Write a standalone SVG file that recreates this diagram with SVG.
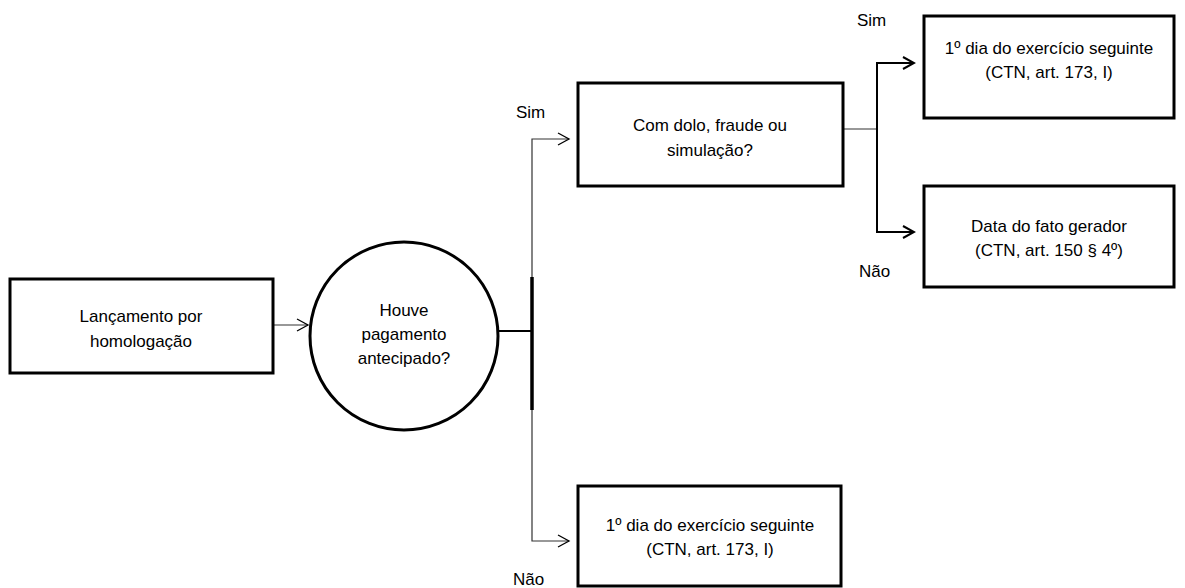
<svg xmlns="http://www.w3.org/2000/svg" width="1185" height="588" viewBox="0 0 1185 588">
<style>
.box{fill:#fff;stroke:#000;stroke-width:3}
.t{font-family:"Liberation Sans",Arial,sans-serif;font-size:17px;fill:#000;text-anchor:middle}
.lbl{font-family:"Liberation Sans",Arial,sans-serif;font-size:17px;fill:#000}
.thin{fill:none;stroke:#333;stroke-width:1.2}
.mid{fill:none;stroke:#000;stroke-width:2}
.thick{fill:none;stroke:#000;stroke-width:3.5}
</style>
<defs>
<marker id="arr" markerUnits="userSpaceOnUse" markerWidth="14" markerHeight="14" refX="12" refY="7" orient="auto" viewBox="0 0 14 14">
<path d="M1,1 L12,7 L1,13" fill="none" stroke="#000" stroke-width="1.3"/>
</marker>
<marker id="arr2" markerUnits="userSpaceOnUse" markerWidth="14" markerHeight="14" refX="12" refY="7" orient="auto" viewBox="0 0 14 14">
<path d="M1,1 L12,7 L1,13" fill="none" stroke="#000" stroke-width="2"/>
</marker>
</defs>
<rect width="1185" height="588" fill="#fff"/>
<g id="connectors">
<line class="thin" x1="273" y1="325" x2="308" y2="325" marker-end="url(#arr)"/>
<line class="mid" x1="498" y1="331" x2="532" y2="331"/>
<polyline class="thin" points="568,139 532,139 532,277"/>
<line class="thick" x1="532" y1="277" x2="532" y2="410"/>
<polyline class="thin" points="532,410 532,541 568,541"/>
<line class="thin" x1="568" y1="139" x2="569" y2="139" marker-end="url(#arr)"/>
<line class="thin" x1="568" y1="541" x2="569" y2="541" marker-end="url(#arr)"/>
<line class="thin" x1="843" y1="129" x2="877" y2="129"/>
<polyline class="mid" points="914,63 877,63 877,232 914,232"/>
<line class="mid" x1="913" y1="63" x2="914" y2="63" marker-end="url(#arr2)"/>
<line class="mid" x1="913" y1="232" x2="914" y2="232" marker-end="url(#arr2)"/>
</g>
<g id="labels">
<text class="lbl" x="516" y="118">Sim</text>
<text class="lbl" x="513" y="585">Não</text>
<text class="lbl" x="857" y="26">Sim</text>
<text class="lbl" x="859" y="277">Não</text>
</g>
<g id="n1">
<rect class="box" x="10" y="279" width="263" height="94"/>
<text class="t" x="141" y="322">Lançamento por</text>
<text class="t" x="141" y="347">homologação</text>
</g>
<g id="n2">
<circle cx="404" cy="336" r="94" fill="#fff" stroke="#000" stroke-width="3"/>
<text class="t" x="404" y="316">Houve</text>
<text class="t" x="404" y="340">pagamento</text>
<text class="t" x="404" y="364">antecipado?</text>
</g>
<g id="n3">
<rect class="box" x="578" y="83" width="265" height="103"/>
<text class="t" x="710" y="131">Com dolo, fraude ou</text>
<text class="t" x="710" y="156">simulação?</text>
</g>
<g id="n4">
<rect class="box" x="924" y="16" width="250" height="102"/>
<text class="t" x="1049" y="54">1º dia do exercício seguinte</text>
<text class="t" x="1049" y="78">(CTN, art. 173, I)</text>
</g>
<g id="n5">
<rect class="box" x="924" y="186" width="250" height="101"/>
<text class="t" x="1049" y="232">Data do fato gerador</text>
<text class="t" x="1049" y="256">(CTN, art. 150 § 4º)</text>
</g>
<g id="n6">
<rect class="box" x="578" y="486" width="263" height="100"/>
<text class="t" x="710" y="531">1º dia do exercício seguinte</text>
<text class="t" x="710" y="555">(CTN, art. 173, I)</text>
</g>
</svg>
